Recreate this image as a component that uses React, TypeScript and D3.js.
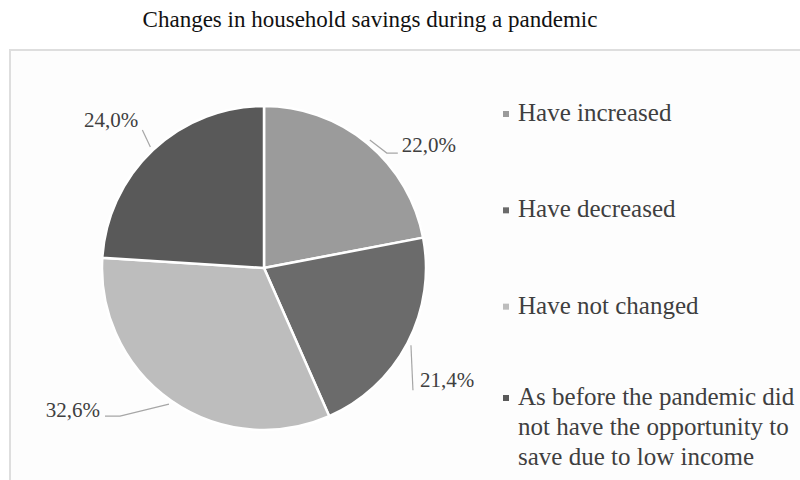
import React from "react";
import * as d3 from "d3";

const title = "Changes in household savings during a pandemic";
const categories = [
  "Have increased",
  "Have decreased",
  "Have not changed",
  "As before the pandemic did not have the opportunity to save due to low income",
];
const values = [22.0, 21.4, 32.6, 24.0];
const valueLabels = ["22,0%", "21,4%", "32,6%", "24,0%"];
const legendLines = [
  ["Have increased"],
  ["Have decreased"],
  ["Have not changed"],
  ["As before the pandemic did", "not have the opportunity to", "save due to low income"],
];
const colors = ["#9b9b9b", "#6b6b6b", "#bdbdbd", "#595959"];

// leader layout: offset of leader end from slice edge, horizontal tail, text side
const leaderLayout = [
  { dx: 17, dy: 13, tail: 11, tdx: 4, tdy: -1, anchor: "start" },
  { dx: 2, dy: 45, tail: 0, tdx: 7, tdy: -3, anchor: "start" },
  { dx: -49, dy: 12, tail: -15, tdx: -5, tdy: 1, anchor: "end" },
  { dx: -8, dy: -17, tail: 0, tdx: -4, tdy: -3, anchor: "end" },
];

const W = 800;
const H = 480;
const cx = 264;
const cy = 268;
const R = 162;

export default function App() {
  const pie = d3
    .pie<number>()
    .sort(null)
    .value((d) => d);
  const arcs = pie(values);
  const arcGen = d3.arc<d3.PieArcDatum<number>>().innerRadius(0).outerRadius(R);
  const line = d3.line();

  const legendY = d3
    .scalePoint<number>()
    .domain(d3.range(categories.length))
    .range([121, 410]);

  const serif = "'Liberation Serif', 'Times New Roman', serif";

  return (
    <svg
      width={W}
      height={H}
      style={{ position: "absolute", left: 0, top: 0, background: "#ffffff" }}
    >
      <rect x={10} y={50} width={W} height={H} fill="#fdfdfd" stroke="#dedede" strokeWidth={2} />
      <text
        x={370}
        y={27}
        textAnchor="middle"
        fontFamily={serif}
        fontSize={23}
        fill="#111"
      >
        {title}
      </text>
      <g transform={`translate(${cx},${cy})`}>
        {arcs.map((a, i) => (
          <path key={i} d={arcGen(a) || ""} fill={colors[i]} stroke="#ffffff" strokeWidth={2.5} />
        ))}
      </g>
      {arcs.map((a, i) => {
        const mid = (a.startAngle + a.endAngle) / 2;
        const ex = cx + (R + 4) * Math.sin(mid);
        const ey = cy - (R + 4) * Math.cos(mid);
        const L = leaderLayout[i];
        const lx = ex + L.dx;
        const ly = ey + L.dy;
        const pts: [number, number][] = [[ex, ey], [lx, ly]];
        if (L.tail !== 0) pts.push([lx + L.tail, ly]);
        const end = pts[pts.length - 1];
        return (
          <g key={i}>
            <path d={line(pts) || ""} fill="none" stroke="#a6a6a6" strokeWidth={1.2} />
            <text
              x={end[0] + L.tdx}
              y={end[1] + L.tdy}
              textAnchor={L.anchor as any}
              fontFamily={serif}
              fontSize={21}
              fill="#3f3f3f"
            >
              {valueLabels[i]}
            </text>
          </g>
        );
      })}
      {categories.map((c, i) => {
        const lines = legendLines[i];
        const y0 = (legendY(i) as number) - (lines.length > 1 ? 5 : 0);
        return (
          <g key={c}>
            <rect x={503} y={y0 - 10} width={6} height={6} fill={colors[i]} />
            <text fontFamily={serif} fontSize={25} fill="#3f3f3f">
              {lines.map((t, j) => (
                <tspan key={j} x={518} y={y0 + j * 30}>
                  {t}
                </tspan>
              ))}
            </text>
          </g>
        );
      })}
    </svg>
  );
}
